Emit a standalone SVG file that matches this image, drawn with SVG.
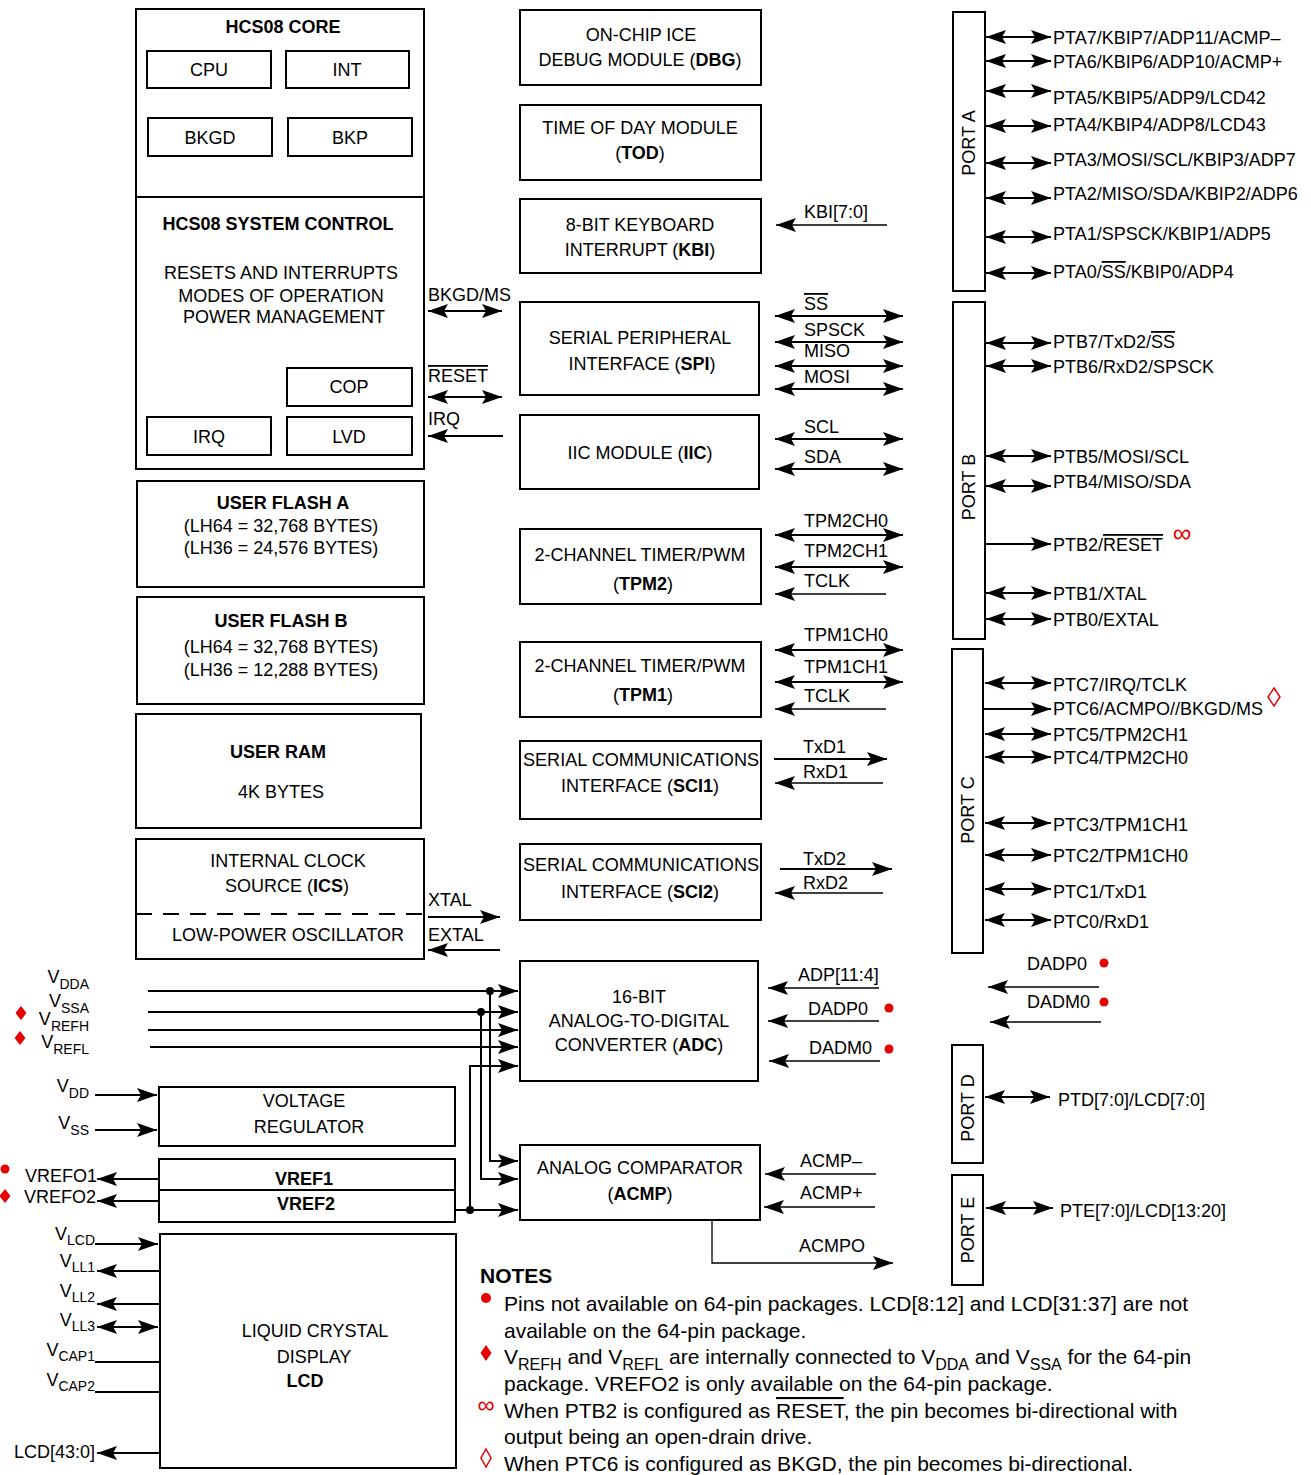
<svg xmlns="http://www.w3.org/2000/svg" width="1311" height="1475" viewBox="0 0 1311 1475">
<defs>
<style>
text{font-family:"Liberation Sans",Arial,Helvetica,sans-serif;font-size:18px;fill:#000}
.c{text-anchor:middle}
.e{text-anchor:end}
.bd{font-weight:bold}
.n{font-size:21px}
.s{font-size:14px}
.b{fill:none;stroke:#000;stroke-width:2}
.w{fill:none;stroke:#000;stroke-width:2}
.t{fill:none;stroke:#000;stroke-width:1.3}
.ar{marker-end:url(#a)}
.da{marker-start:url(#a);marker-end:url(#a)}
.rd{fill:#e60000}
.ol{text-decoration:overline}
</style>
<marker id="a" viewBox="-21 -8 22 16" refX="0" refY="0" markerWidth="22" markerHeight="16" markerUnits="userSpaceOnUse" orient="auto-start-reverse">
<path d="M0,0 L-20,-7 L-16,0 L-20,7 Z" fill="#000"/>
</marker>
</defs>
<rect width="1311" height="1475" fill="#fff"/>

<g id="core">
<rect class="b" x="136" y="9" width="288" height="460"/>
<line class="b" x1="136" y1="197" x2="424" y2="197"/>
<text x="283" y="33" class="c bd">HCS08 CORE</text>
<rect class="b" x="147" y="51" width="124" height="37"/><text x="209" y="76" class="c">CPU</text>
<rect class="b" x="286" y="51" width="123" height="37"/><text x="347" y="76" class="c">INT</text>
<rect class="b" x="148" y="118" width="124" height="38"/><text x="210" y="144" class="c">BKGD</text>
<rect class="b" x="288" y="118" width="124" height="38"/><text x="350" y="144" class="c">BKP</text>
<text x="278" y="230" class="c bd">HCS08 SYSTEM CONTROL</text>
<text x="281" y="279" class="c">RESETS AND INTERRUPTS</text>
<text x="281" y="302" class="c">MODES OF OPERATION</text>
<text x="284" y="323" class="c">POWER MANAGEMENT</text>
<rect class="b" x="287" y="368" width="125" height="38"/><text x="349" y="393" class="c">COP</text>
<rect class="b" x="147" y="417" width="124" height="38"/><text x="209" y="443" class="c">IRQ</text>
<rect class="b" x="287" y="417" width="125" height="38"/><text x="349" y="443" class="c">LVD</text>
</g>

<g id="flasha">
<rect class="b" x="137" y="481" width="287" height="106"/>
<text x="283" y="509" class="c bd">USER FLASH A</text>
<text x="281" y="532" class="c">(LH64 = 32,768 BYTES)</text>
<text x="281" y="554" class="c">(LH36 = 24,576 BYTES)</text>
</g>
<g id="flashb">
<rect class="b" x="137" y="597" width="287" height="107"/>
<text x="281" y="627" class="c bd">USER FLASH B</text>
<text x="281" y="653" class="c">(LH64 = 32,768 BYTES)</text>
<text x="281" y="676" class="c">(LH36 = 12,288 BYTES)</text>
</g>
<g id="ram">
<rect class="b" x="136" y="714" width="285" height="114"/>
<text x="278" y="758" class="c bd">USER RAM</text>
<text x="281" y="798" class="c">4K BYTES</text>
</g>
<g id="ics">
<rect class="b" x="136" y="839" width="288" height="120"/>
<line x1="136" y1="914" x2="424" y2="914" stroke="#000" stroke-width="2" stroke-dasharray="16,11"/>
<text x="288" y="867" class="c">INTERNAL CLOCK</text>
<text x="287" y="892" class="c">SOURCE (<tspan class="bd">ICS</tspan>)</text>
<text x="288" y="941" class="c">LOW-POWER OSCILLATOR</text>
</g>

<g id="dbg">
<rect class="b" x="520" y="10" width="241" height="75"/>
<text x="641" y="41" class="c">ON-CHIP ICE</text>
<text x="640" y="66" class="c">DEBUG MODULE (<tspan class="bd">DBG</tspan>)</text>
</g>
<g id="tod">
<rect class="b" x="520" y="105" width="241" height="75"/>
<text x="640" y="134" class="c">TIME OF DAY MODULE</text>
<text x="640" y="159" class="c">(<tspan class="bd">TOD</tspan>)</text>
</g>
<g id="kbi">
<rect class="b" x="520" y="199" width="241" height="74"/>
<text x="640" y="231" class="c">8-BIT KEYBOARD</text>
<text x="640" y="256" class="c">INTERRUPT (<tspan class="bd">KBI</tspan>)</text>
</g>
<g id="spi">
<rect class="b" x="520" y="302" width="239" height="93"/>
<text x="640" y="344" class="c">SERIAL PERIPHERAL</text>
<text x="642" y="370" class="c">INTERFACE (<tspan class="bd">SPI</tspan>)</text>
</g>
<g id="iic">
<rect class="b" x="520" y="415" width="239" height="74"/>
<text x="640" y="459" class="c">IIC MODULE (<tspan class="bd">IIC</tspan>)</text>
</g>
<g id="tpm2">
<rect class="b" x="520" y="529" width="241" height="75"/>
<text x="640" y="561" class="c">2-CHANNEL TIMER/PWM</text>
<text x="643" y="590" class="c">(<tspan class="bd">TPM2</tspan>)</text>
</g>
<g id="tpm1">
<rect class="b" x="520" y="642" width="241" height="75"/>
<text x="640" y="672" class="c">2-CHANNEL TIMER/PWM</text>
<text x="643" y="701" class="c">(<tspan class="bd">TPM1</tspan>)</text>
</g>
<g id="sci1">
<rect class="b" x="520" y="741" width="241" height="78"/>
<text x="641" y="766" class="c" textLength="236" lengthAdjust="spacingAndGlyphs">SERIAL COMMUNICATIONS</text>
<text x="640" y="792" class="c">INTERFACE (<tspan class="bd">SCI1</tspan>)</text>
</g>
<g id="sci2">
<rect class="b" x="520" y="844" width="241" height="76"/>
<text x="641" y="871" class="c" textLength="236" lengthAdjust="spacingAndGlyphs">SERIAL COMMUNICATIONS</text>
<text x="640" y="898" class="c">INTERFACE (<tspan class="bd">SCI2</tspan>)</text>
</g>
<g id="adc">
<rect class="b" x="520" y="961" width="238" height="120"/>
<text x="639" y="1003" class="c">16-BIT</text>
<text x="639" y="1027" class="c">ANALOG-TO-DIGITAL</text>
<text x="639" y="1051" class="c">CONVERTER (<tspan class="bd">ADC</tspan>)</text>
</g>
<g id="acmp">
<rect class="b" x="520" y="1145" width="240" height="75"/>
<text x="640" y="1174" class="c">ANALOG COMPARATOR</text>
<text x="640" y="1200" class="c">(<tspan class="bd">ACMP</tspan>)</text>
</g>
<g id="vreg">
<rect class="b" x="159" y="1087" width="296" height="59"/>
<text x="304" y="1107" class="c">VOLTAGE</text>
<text x="309" y="1133" class="c">REGULATOR</text>
</g>
<g id="vref">
<rect class="b" x="159" y="1159" width="296" height="63"/>
<line class="b" x1="159" y1="1190" x2="455" y2="1190"/>
<text x="304" y="1185" class="c bd">VREF1</text>
<text x="306" y="1210" class="c bd">VREF2</text>
</g>
<g id="lcd">
<rect class="b" x="160" y="1234" width="296" height="234"/>
<text x="315" y="1337" class="c">LIQUID CRYSTAL</text>
<text x="314" y="1363" class="c">DISPLAY</text>
<text x="305" y="1387" class="c bd">LCD</text>
</g>

<g id="porta">
<rect class="b" x="953" y="12" width="32" height="279"/>
<text transform="translate(975,143) rotate(-90)" class="c">PORT A</text>
</g>
<g id="portb">
<rect class="b" x="953" y="302" width="32" height="337"/>
<text transform="translate(975,487) rotate(-90)" class="c">PORT B</text>
</g>
<g id="portc">
<rect class="b" x="952" y="649" width="31" height="304"/>
<text transform="translate(974,810) rotate(-90)" class="c">PORT C</text>
</g>
<g id="portd">
<rect class="b" x="952" y="1045" width="31" height="118"/>
<text transform="translate(974,1108) rotate(-90)" class="c">PORT D</text>
</g>
<g id="porte">
<rect class="b" x="952" y="1175" width="31" height="110"/>
<text transform="translate(974,1230) rotate(-90)" class="c">PORT E</text>
</g>

<g id="connectors">
<line class="w da" x1="428" y1="311" x2="502" y2="311"/>
<line class="w da" x1="428" y1="397" x2="502" y2="397"/>
<line class="w ar" x1="503" y1="436" x2="428" y2="436"/>
<line class="w ar" x1="428" y1="917" x2="500" y2="917"/>
<line class="w ar" x1="500" y1="950" x2="428" y2="950"/>
<line class="t ar" x1="887" y1="225" x2="776" y2="225"/>
<line class="w da" x1="775" y1="316" x2="903" y2="316"/>
<line class="w da" x1="775" y1="342" x2="903" y2="342"/>
<line class="w da" x1="775" y1="366" x2="903" y2="366"/>
<line class="w da" x1="775" y1="389" x2="903" y2="389"/>
<line class="w da" x1="775" y1="439" x2="903" y2="439"/>
<line class="w da" x1="775" y1="469" x2="903" y2="469"/>
<line class="w da" x1="775" y1="535" x2="903" y2="535"/>
<line class="w da" x1="775" y1="567" x2="903" y2="567"/>
<line class="t ar" x1="886" y1="594" x2="775" y2="594"/>
<line class="w da" x1="775" y1="650" x2="903" y2="650"/>
<line class="w da" x1="775" y1="682" x2="903" y2="682"/>
<line class="t ar" x1="886" y1="709" x2="775" y2="709"/>
<line class="w ar" x1="774" y1="759" x2="887" y2="759"/>
<line class="t ar" x1="883" y1="783" x2="775" y2="783"/>
<line class="w ar" x1="780" y1="869" x2="892" y2="869"/>
<line class="t ar" x1="883" y1="893" x2="775" y2="893"/>
<line class="t ar" x1="879" y1="988" x2="768" y2="988"/>
<line class="t ar" x1="879" y1="1021" x2="768" y2="1021"/>
<line class="t ar" x1="880" y1="1061" x2="769" y2="1061"/>
<line class="t ar" x1="1099" y1="987" x2="988" y2="987"/>
<line class="t ar" x1="1101" y1="1022" x2="990" y2="1022"/>
<line class="t ar" x1="876" y1="1174" x2="765" y2="1174"/>
<line class="t ar" x1="875" y1="1207" x2="764" y2="1207"/>
<path class="t ar" d="M712,1220 V1263 H893"/>
<line class="w ar" x1="148" y1="991" x2="518" y2="991"/>
<line class="w ar" x1="148" y1="1012" x2="518" y2="1012"/>
<line class="w ar" x1="148" y1="1030" x2="518" y2="1030"/>
<line class="w ar" x1="150" y1="1047" x2="518" y2="1047"/>
<path class="w ar" d="M490,991 V1161 H518"/>
<path class="w ar" d="M481,1012 V1179 H518"/>
<path class="w ar" d="M470,1210 V1066 H518"/>
<line class="w ar" x1="455" y1="1210" x2="518" y2="1210"/>
<circle cx="490" cy="991" r="4"/>
<circle cx="481" cy="1012" r="4"/>
<circle cx="470" cy="1210" r="4"/>
<line class="w ar" x1="95" y1="1095" x2="157" y2="1095"/>
<line class="w ar" x1="95" y1="1130" x2="157" y2="1130"/>
<line class="w ar" x1="159" y1="1179" x2="97" y2="1179"/>
<line class="w ar" x1="159" y1="1201" x2="97" y2="1201"/>
<line class="w ar" x1="95" y1="1244" x2="158" y2="1244"/>
<line class="w ar" x1="160" y1="1271" x2="97" y2="1271"/>
<line class="w ar" x1="160" y1="1304" x2="97" y2="1304"/>
<line class="w da" x1="97" y1="1327" x2="158" y2="1327"/>
<line class="w" x1="95" y1="1362" x2="160" y2="1362"/>
<line class="w" x1="95" y1="1392" x2="160" y2="1392"/>
<line class="w ar" x1="160" y1="1453" x2="97" y2="1453"/>
<line class="w da" x1="986" y1="37" x2="1051" y2="37"/>
<line class="w da" x1="986" y1="61" x2="1051" y2="61"/>
<line class="w da" x1="986" y1="91" x2="1051" y2="91"/>
<line class="w da" x1="986" y1="126" x2="1051" y2="126"/>
<line class="w da" x1="986" y1="163" x2="1051" y2="163"/>
<line class="w da" x1="986" y1="198" x2="1051" y2="198"/>
<line class="w da" x1="986" y1="237" x2="1051" y2="237"/>
<line class="w da" x1="986" y1="273" x2="1051" y2="273"/>
<line class="w da" x1="986" y1="343" x2="1051" y2="343"/>
<line class="w da" x1="986" y1="366" x2="1051" y2="366"/>
<line class="w da" x1="986" y1="456" x2="1051" y2="456"/>
<line class="w da" x1="986" y1="486" x2="1051" y2="486"/>
<line class="w ar" x1="985" y1="544" x2="1051" y2="544"/>
<line class="w da" x1="986" y1="593" x2="1051" y2="593"/>
<line class="w da" x1="986" y1="619" x2="1051" y2="619"/>
<line class="w da" x1="985" y1="683" x2="1051" y2="683"/>
<line class="w ar" x1="983" y1="709" x2="1051" y2="709"/>
<line class="w da" x1="985" y1="734" x2="1051" y2="734"/>
<line class="w da" x1="985" y1="757" x2="1051" y2="757"/>
<line class="w da" x1="985" y1="823" x2="1051" y2="823"/>
<line class="w da" x1="985" y1="855" x2="1051" y2="855"/>
<line class="w da" x1="985" y1="889" x2="1051" y2="889"/>
<line class="w da" x1="985" y1="920" x2="1051" y2="920"/>
<line class="w da" x1="985" y1="1097" x2="1050" y2="1097"/>
<line class="w da" x1="986" y1="1208" x2="1053" y2="1208"/>
</g>

<g id="labels">
<text x="428" y="301">BKGD/MS</text>
<text x="428" y="382" class="ol">RESET</text>
<text x="428" y="425">IRQ</text>
<text x="428" y="906">XTAL</text>
<text x="428" y="941">EXTAL</text>
<text x="804" y="218">KBI[7:0]</text>
<text x="804" y="310" class="ol">SS</text>
<text x="804" y="336">SPSCK</text>
<text x="804" y="357">MISO</text>
<text x="804" y="383">MOSI</text>
<text x="804" y="433">SCL</text>
<text x="804" y="463">SDA</text>
<text x="804" y="527">TPM2CH0</text>
<text x="804" y="557">TPM2CH1</text>
<text x="804" y="587">TCLK</text>
<text x="804" y="641">TPM1CH0</text>
<text x="804" y="673">TPM1CH1</text>
<text x="804" y="702">TCLK</text>
<text x="803" y="753">TxD1</text>
<text x="803" y="778">RxD1</text>
<text x="803" y="865">TxD2</text>
<text x="803" y="889">RxD2</text>
<text x="798" y="981">ADP[11:4]</text>
<text x="808" y="1015">DADP0</text>
<text x="809" y="1054">DADM0</text>
<text x="800" y="1167">ACMP–</text>
<text x="800" y="1199">ACMP+</text>
<text x="799" y="1252">ACMPO</text>
<text x="1027" y="970">DADP0</text>
<text x="1027" y="1008">DADM0</text>
<text x="1053" y="44">PTA7/KBIP7/ADP11/ACMP–</text>
<text x="1053" y="68">PTA6/KBIP6/ADP10/ACMP+</text>
<text x="1053" y="104">PTA5/KBIP5/ADP9/LCD42</text>
<text x="1053" y="131">PTA4/KBIP4/ADP8/LCD43</text>
<text x="1053" y="166">PTA3/MOSI/SCL/KBIP3/ADP7</text>
<text x="1053" y="200">PTA2/MISO/SDA/KBIP2/ADP6</text>
<text x="1053" y="240">PTA1/SPSCK/KBIP1/ADP5</text>
<text x="1053" y="278">PTA0/<tspan class="ol">SS</tspan>/KBIP0/ADP4</text>
<text x="1053" y="348">PTB7/TxD2/<tspan class="ol">SS</tspan></text>
<text x="1053" y="373">PTB6/RxD2/SPSCK</text>
<text x="1053" y="463">PTB5/MOSI/SCL</text>
<text x="1053" y="488">PTB4/MISO/SDA</text>
<text x="1053" y="551">PTB2/<tspan class="ol">RESET</tspan></text>
<text x="1053" y="600">PTB1/XTAL</text>
<text x="1053" y="626">PTB0/EXTAL</text>
<text x="1053" y="691">PTC7/IRQ/TCLK</text>
<text x="1053" y="715">PTC6/ACMPO//BKGD/MS</text>
<text x="1053" y="741">PTC5/TPM2CH1</text>
<text x="1053" y="764">PTC4/TPM2CH0</text>
<text x="1053" y="831">PTC3/TPM1CH1</text>
<text x="1053" y="862">PTC2/TPM1CH0</text>
<text x="1053" y="898">PTC1/TxD1</text>
<text x="1053" y="928">PTC0/RxD1</text>
<text x="1058" y="1106">PTD[7:0]/LCD[7:0]</text>
<text x="1060" y="1217">PTE[7:0]/LCD[13:20]</text>
<text x="89" y="983" class="e">V<tspan class="s" dy="6">DDA</tspan></text>
<text x="89" y="1007" class="e">V<tspan class="s" dy="6">SSA</tspan></text>
<text x="89" y="1025" class="e">V<tspan class="s" dy="6">REFH</tspan></text>
<text x="89" y="1048" class="e">V<tspan class="s" dy="6">REFL</tspan></text>
<text x="89" y="1092" class="e">V<tspan class="s" dy="6">DD</tspan></text>
<text x="89" y="1129" class="e">V<tspan class="s" dy="6">SS</tspan></text>
<text x="97" y="1182" class="e">VREFO1</text>
<text x="96" y="1203" class="e">VREFO2</text>
<text x="95" y="1240" class="e">V<tspan class="s" dy="5">LCD</tspan></text>
<text x="95" y="1267" class="e">V<tspan class="s" dy="5">LL1</tspan></text>
<text x="95" y="1297" class="e">V<tspan class="s" dy="5">LL2</tspan></text>
<text x="95" y="1326" class="e">V<tspan class="s" dy="5">LL3</tspan></text>
<text x="95" y="1356" class="e">V<tspan class="s" dy="5">CAP1</tspan></text>
<text x="95" y="1386" class="e">V<tspan class="s" dy="5">CAP2</tspan></text>
<text x="95" y="1458" class="e">LCD[43:0]</text>
</g>

<g id="marks">
<circle class="rd" cx="1104" cy="963" r="4.5"/>
<circle class="rd" cx="1104" cy="1002" r="4.5"/>
<circle class="rd" cx="889" cy="1008" r="4.5"/>
<circle class="rd" cx="889" cy="1049" r="4.5"/>
<polygon class="rd" points="21,1006 26.5,1013 21,1020 15.5,1013"/>
<polygon class="rd" points="20,1031 25.5,1038 20,1045 14.5,1038"/>
<circle class="rd" cx="5" cy="1169" r="4.5"/>
<polygon class="rd" points="5,1189 10.5,1196 5,1203 -0.5,1196"/>
<text x="1182" y="542" class="c" style="fill:#e60000;font-size:26px">∞</text>
<polygon points="1274,688 1280,697 1274,706 1268,697" fill="none" stroke="#e60000" stroke-width="1.5"/>
</g>

<g id="notes">
<text x="480" y="1283" class="n bd">NOTES</text>
<circle class="rd" cx="486" cy="1298" r="5"/>
<text x="504" y="1311" class="n">Pins not available on 64-pin packages. LCD[8:12] and LCD[31:37] are not</text>
<text x="504" y="1338" class="n">available on the 64-pin package.</text>
<polygon class="rd" points="486,1345 491.5,1353 486,1361 480.5,1353"/>
<text x="504" y="1364" class="n">V<tspan class="s" style="font-size:16px" dy="6">REFH</tspan><tspan dy="-6"> and V</tspan><tspan style="font-size:16px" dy="6">REFL</tspan><tspan dy="-6"> are internally connected to V</tspan><tspan style="font-size:16px" dy="6">DDA</tspan><tspan dy="-6"> and V</tspan><tspan style="font-size:16px" dy="6">SSA</tspan><tspan dy="-6"> for the 64-pin</tspan></text>
<text x="504" y="1391" class="n">package. VREFO2 is only available on the 64-pin package.</text>
<text x="486" y="1413" class="c" style="fill:#e60000;font-size:24px">∞</text>
<text x="504" y="1418" class="n">When PTB2 is configured as <tspan class="ol">RESET</tspan>, the pin becomes bi-directional with</text>
<text x="504" y="1444" class="n">output being an open-drain drive.</text>
<polygon points="486,1449 491,1458 486,1467 481,1458" fill="none" stroke="#e60000" stroke-width="1.5"/>
<text x="504" y="1471" class="n">When PTC6 is configured as BKGD, the pin becomes bi-directional.</text>
</g>
</svg>
